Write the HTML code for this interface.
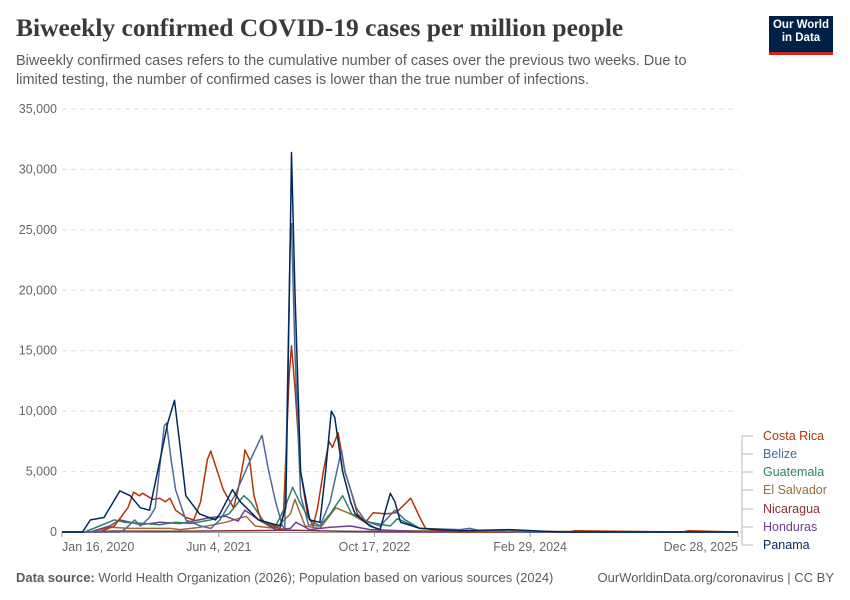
<!DOCTYPE html>
<html><head><meta charset="utf-8">
<style>
body{margin:0;background:#fff;font-family:"Liberation Sans",sans-serif;}
#wrap{position:relative;width:850px;height:600px;overflow:hidden;}
.t{position:absolute;white-space:nowrap;}
</style></head>
<body>
<div id="wrap">
<div class="t" style="left:16px;top:13px;font-family:'Liberation Serif',serif;font-size:25.5px;font-weight:bold;color:#3a3a3a;">Biweekly confirmed COVID-19 cases per million people</div>
<div class="t" style="left:16px;top:52px;font-size:14.5px;line-height:19px;color:#5b5b5b;white-space:normal;width:695px;">Biweekly confirmed cases refers to the cumulative number of cases over the previous two weeks. Due to limited testing, the number of confirmed cases is lower than the true number of infections.</div>
<div style="position:absolute;left:769px;top:16px;width:64px;height:33px;background:#002147;border-bottom:3px solid #ce261e;color:#fff;font-size:11.5px;font-weight:bold;line-height:13px;text-align:center;padding-top:3px;box-sizing:content-box;">Our World<br>in Data</div>
<svg id="chart" width="850" height="600" style="position:absolute;left:0;top:0;"></svg>
<div class="t" style="left:16px;top:570px;font-size:13px;color:#5b5b5b;"><b>Data source:</b> World Health Organization (2026); Population based on various sources (2024)</div>
<div class="t" style="right:16px;top:570px;font-size:13px;color:#5b5b5b;">OurWorldinData.org/coronavirus | CC BY</div>
</div>
<script>
const yTicks=[0,5000,10000,15000,20000,25000,30000,35000];
const xTickDates=[2020.04,2021.42,2022.79,2024.16,2025.99];
const xTickLabels=["Jan 16, 2020","Jun 4, 2021","Oct 17, 2022","Feb 29, 2024","Dec 28, 2025"];
const seriesNames=["Costa Rica","Belize","Guatemala","El Salvador","Nicaragua","Honduras","Panama"];
const seriesColors=["#b13507","#4c6a9c","#2c8465","#996d39","#883039","#6d3e91","#00295b"];
const crT=[2020.04,2020.37,2020.5,2020.62,2020.67,2020.72,2020.75,2020.84,2020.9,2020.95,2020.99,2021.04,2021.13,2021.2,2021.26,2021.32,2021.35,2021.39,2021.46,2021.52,2021.55,2021.59,2021.64,2021.65,2021.69,2021.73,2021.79,2021.88,2021.96,2021.99,2022.04,2022.06,2022.09,2022.14,2022.2,2022.25,2022.29,2022.34,2022.39,2022.42,2022.47,2022.53,2022.58,2022.64,2022.71,2022.78,2022.89,2022.98,2023.11,2023.2,2023.24,2023.33,2023.5,2024.5,2024.55,2025.5,2025.55,2025.99];
const crV=[0,0,500,2000,3300,3000,3200,2700,2800,2500,2800,1800,1200,1000,2500,6000,6700,5500,3500,2500,2000,3500,6000,6800,6000,3000,1000,500,300,1500,13000,15400,12000,5000,1500,500,2000,5000,7500,7000,8200,5000,3500,1500,800,1600,1500,1600,2800,1000,300,100,0,0,100,0,100,0];
const bzT=[2020.04,2020.55,2020.59,2020.68,2020.73,2020.81,2020.86,2020.94,2020.96,2021.0,2021.04,2021.13,2021.26,2021.35,2021.43,2021.56,2021.7,2021.8,2021.86,2021.92,2021.98,2022.0,2022.02,2022.05,2022.06,2022.09,2022.14,2022.21,2022.31,2022.4,2022.47,2022.5,2022.53,2022.58,2022.63,2022.71,2022.84,2022.97,2023.06,2023.19,2023.54,2023.63,2023.72,2024.07,2025.99];
const bzV=[0,0,200,1000,500,1200,2000,8800,9000,6000,3500,1000,500,300,1000,3000,6000,8000,5000,2500,500,300,10000,25000,25500,15000,3000,600,500,2500,5500,6800,5000,3500,2000,900,500,1800,1000,300,200,300,100,0,0];
const gtT=[2020.04,2020.24,2020.37,2020.5,2020.59,2020.77,2020.9,2021.04,2021.17,2021.35,2021.51,2021.64,2021.7,2021.77,2021.83,2021.92,2022.0,2022.07,2022.13,2022.22,2022.31,2022.4,2022.51,2022.59,2022.75,2022.93,2022.99,2023.19,2023.45,2023.89,2024.2,2025.99];
const gtV=[0,0,500,1000,800,700,600,800,700,1000,1500,3000,2500,1500,700,500,2000,3700,2500,1000,500,1500,3000,1500,800,500,1100,300,100,50,0,0];
const svT=[2020.04,2020.29,2020.46,2020.64,2020.99,2021.08,2021.26,2021.48,2021.66,2021.74,2021.92,2022.05,2022.09,2022.18,2022.31,2022.45,2022.58,2022.71,2022.84,2025.99];
const svV=[0,0,400,300,300,200,400,800,1300,500,300,1500,2700,500,300,2000,1500,800,100,0];
const niT=[2020.04,2020.3,2020.5,2021.0,2021.6,2022.06,2022.5,2023.0,2025.99];
const niV=[0,20,80,60,100,150,60,20,0];
const hnT=[2020.04,2020.29,2020.46,2020.55,2020.73,2020.9,2021.08,2021.35,2021.48,2021.59,2021.65,2021.77,2021.92,2022.05,2022.1,2022.22,2022.4,2022.58,2022.75,2023.02,2023.3,2025.99];
const hnV=[0,0,500,1000,600,800,700,1200,1300,900,1800,1000,200,300,800,200,400,500,200,100,0,0];
const pnT=[2020.04,2020.22,2020.29,2020.41,2020.55,2020.64,2020.73,2020.81,2020.97,2021.03,2021.08,2021.13,2021.25,2021.39,2021.43,2021.54,2021.61,2021.77,2021.96,2022.01,2022.05,2022.06,2022.09,2022.14,2022.22,2022.31,2022.36,2022.41,2022.44,2022.51,2022.58,2022.62,2022.75,2022.84,2022.93,2022.97,2023.02,2023.19,2023.54,2023.98,2024.42,2025.99];
const pnV=[0,0,1000,1200,3400,3000,2000,1800,9000,10900,7000,3000,1500,1000,1500,3500,2500,1000,500,2000,25000,31400,20000,5000,1000,800,5000,10000,9500,5000,2500,1500,500,200,3200,2500,800,300,100,200,0,0];
const seriesT=[crT,bzT,gtT,svT,niT,hnT,pnT];
const seriesV=[crV,bzV,gtV,svV,niV,hnV,pnV];

const NS="http://www.w3.org/2000/svg";
const svg=document.getElementById('chart');
const X0=62,X1=738,T0=2020.04,T1=2025.99,Y0=532,Y1=109,VMAX=35000;
const xs=t=>X0+(t-T0)/(T1-T0)*(X1-X0);
const ys=v=>Y0-v/VMAX*(Y0-Y1);
function mk(tag,attrs){const e=document.createElementNS(NS,tag);for(const k in attrs)e.setAttribute(k,attrs[k]);svg.appendChild(e);return e;}
yTicks.forEach(v=>{
  if(v>0){const g=mk('line',{x1:X0,x2:X1,y1:ys(v),y2:ys(v),stroke:'#ddd','stroke-dasharray':'5,4'});
  
  }
  const t=mk('text',{x:57,y:ys(v)+4,'text-anchor':'end','font-size':'12.5','fill':'#666','font-family':'Liberation Sans, sans-serif'});
  t.textContent=v.toLocaleString('en-US');
  
  
});
const ax=mk('line',{x1:X0,x2:X1,y1:Y0+0.5,y2:Y0+0.5,stroke:'#999'});


xTickDates.forEach((d,i)=>{
  const x=xs(d);
  const tk=mk('line',{x1:x,x2:x,y1:Y0,y2:Y0+5,stroke:'#999'});
  
  
  const anchor=i==0?'start':(i==xTickDates.length-1?'end':'middle');
  const t=mk('text',{x:x,y:Y0+19,'text-anchor':anchor,'font-size':'12.5','fill':'#666','font-family':'Liberation Sans, sans-serif'});
  t.textContent=xTickLabels[i];
  
  
});
const drawOrder=[4,3,5,2,0,1,6];
drawOrder.forEach(i=>{
  const T=seriesT[i],V=seriesV[i];
  let d='';
  T.forEach((t,j)=>{d+=(j?'L':'M')+xs(t).toFixed(1)+','+ys(V[j]).toFixed(1);});
  const p=mk('path',{d:d,fill:'none',stroke:seriesColors[i],'stroke-width':'1.5','stroke-linejoin':'round'});
  
  
});
const labelY=[436,454,472,490,509,527,545];
seriesNames.forEach((n,i)=>{
  const ly=labelY[i];
  const c=mk('path',{d:`M${X1+2},${Y0}H${X1+4}V${ly}H${X1+15}`,fill:'none',stroke:'#bbb','stroke-width':'1'});
  
  
  const t=mk('text',{x:763,y:ly+4,'font-size':'12.5','fill':seriesColors[i],'font-family':'Liberation Sans, sans-serif'});
  t.textContent=n;
  
  
});
</script>
</body></html>
